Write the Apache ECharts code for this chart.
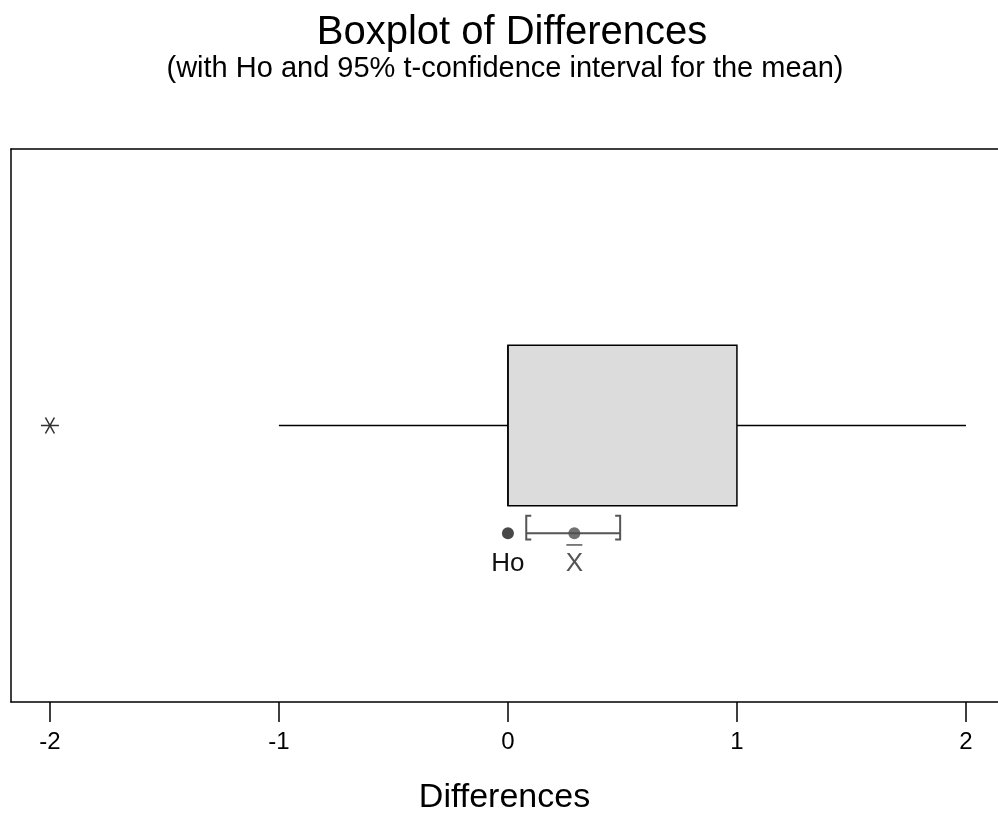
<!doctype html>
<html>
<head>
    <meta charset="UTF-8">
    <title>Boxplot of Differences</title>
    <script src="https://cdn.jsdelivr.net/npm/echarts/dist/echarts.min.js"></script>
    <style>
        html, body { margin: 0; padding: 0; background: #fff; }
    </style>
</head>
<body>
<div id="main" style="width: 998px;height:820px;"></div>
<script>
    // data
    var tickValues = [-2, -1, 0, 1, 2];
    var boxStats = [-1, 0, 0, 1, 2];   // whisker low, Q1, median, Q3, whisker high
    var outliers = [-2];
    var hoValue = 0;
    var meanValue = 0.29;
    var ciBounds = [0.08, 0.49];

    // vertical layout on a hidden 0..1 axis
    var MID = 0.5, BOX_TOP = 0.645, BOX_BOTTOM = 0.355;
    var CI_Y = 0.305, BR_TOP = 0.337, BR_BOTTOM = 0.294;
    var LABEL_Y = 0.249, BAR_Y = 0.284;
    var FONT = 'Liberation Sans, Arial, sans-serif';

    function renderBox(params, api) {
        var lo = api.value(0), q1 = api.value(1), med = api.value(2), q3 = api.value(3), hi = api.value(4);
        var tl = api.coord([q1, BOX_TOP]);
        var br = api.coord([q3, BOX_BOTTOM]);
        var a = api.coord([lo, MID]), b = api.coord([q1, MID]);
        var c = api.coord([q3, MID]), d = api.coord([hi, MID]);
        var mTop = api.coord([med, BOX_TOP]), mBot = api.coord([med, BOX_BOTTOM]);
        var line = {stroke: '#000', lineWidth: 1.4};
        return {
            type: 'group',
            children: [
                {type: 'line', shape: {x1: a[0], y1: a[1], x2: b[0], y2: b[1]}, style: line},
                {type: 'line', shape: {x1: c[0], y1: c[1], x2: d[0], y2: d[1]}, style: line},
                {type: 'rect', shape: {x: tl[0], y: tl[1], width: br[0] - tl[0], height: br[1] - tl[1]},
                    style: {fill: '#dcdcdc', stroke: '#000', lineWidth: 1.5}},
                {type: 'line', shape: {x1: mTop[0], y1: mTop[1], x2: mBot[0], y2: mBot[1]}, style: line}
            ]
        };
    }

    function renderCI(params, api) {
        var lo = api.value(0), mean = api.value(1), hi = api.value(2), ho = api.value(3);
        var p1 = api.coord([lo, CI_Y]), p2 = api.coord([hi, CI_Y]);
        var lt = api.coord([lo, BR_TOP]), lb = api.coord([lo, BR_BOTTOM]);
        var rt = api.coord([hi, BR_TOP]), rb = api.coord([hi, BR_BOTTOM]);
        var hoLab = api.coord([ho, LABEL_Y]), mLab = api.coord([mean, LABEL_Y]);
        var bar = api.coord([mean, BAR_Y]);
        var gray = {stroke: '#555', lineWidth: 2};
        var serif = 5;
        return {
            type: 'group',
            children: [
                {type: 'line', shape: {x1: p1[0], y1: p1[1], x2: p2[0], y2: p2[1]}, style: gray},
                {type: 'polyline', shape: {points: [[lt[0] + serif, lt[1]], lt, lb, [lb[0] + serif, lb[1]]]},
                    style: {stroke: '#555', lineWidth: 2, fill: null}},
                {type: 'polyline', shape: {points: [[rt[0] - serif, rt[1]], rt, rb, [rb[0] - serif, rb[1]]]},
                    style: {stroke: '#555', lineWidth: 2, fill: null}},
                {type: 'text', x: hoLab[0], y: hoLab[1],
                    style: {text: 'Ho', fill: '#111', font: '26px ' + FONT, align: 'center', verticalAlign: 'middle'}},
                {type: 'text', x: mLab[0], y: mLab[1],
                    style: {text: 'X', fill: '#555', font: '26px ' + FONT, align: 'center', verticalAlign: 'middle'}},
                {type: 'line', shape: {x1: bar[0] - 8, y1: bar[1], x2: bar[0] + 8, y2: bar[1]},
                    style: {stroke: '#555', lineWidth: 1.5}}
            ]
        };
    }

    var frameLine = {show: true, onZero: false, lineStyle: {color: '#000', width: 1.5}};

    var myChart = echarts.init(document.getElementById('main'));
    var option = {
        animation: false,
        backgroundColor: '#fff',
        title: [
            {text: 'Boxplot of Differences', left: 507, top: 8, textAlign: 'center',
                textStyle: {fontFamily: FONT, fontSize: 40, fontWeight: 'normal', color: '#000'}},
            {text: '(with Ho and 95% t-confidence interval for the mean)', left: 500, top: 49, textAlign: 'center',
                textStyle: {fontFamily: FONT, fontSize: 29, fontWeight: 'normal', color: '#000'}}
        ],
        grid: {left: 11, top: 149, right: 0, bottom: 113, show: false},
        xAxis: [
            {
                type: 'value', min: -2.17, max: 2.14, position: 'bottom',
                name: 'Differences', nameLocation: 'middle', nameGap: 79,
                nameTextStyle: {fontFamily: FONT, fontSize: 34, color: '#000'},
                axisLine: frameLine,
                axisTick: {show: true, customValues: tickValues, length: 20, lineStyle: {color: '#000', width: 1.5}},
                axisLabel: {customValues: tickValues, margin: 28, fontFamily: FONT, fontSize: 24, color: '#000'},
                splitLine: {show: false}
            },
            {
                type: 'value', min: -2.17, max: 2.14, position: 'top',
                axisLine: frameLine, axisTick: {show: false}, axisLabel: {show: false}, splitLine: {show: false}
            }
        ],
        yAxis: {
            type: 'value', min: 0, max: 1, position: 'left',
            axisLine: frameLine, axisTick: {show: false}, axisLabel: {show: false}, splitLine: {show: false}
        },
        series: [
            {
                type: 'custom', renderItem: renderBox,
                data: [boxStats], encode: {x: [0, 1, 2, 3, 4]}, silent: true, z: 2
            },
            {
                type: 'scatter',
                data: outliers.map(function (v) { return [v, MID]; }),
                symbol: 'path://M0,8L18,8M4.5,0L13.5,16M13.5,0L4.5,16',
                symbolSize: [18, 16],
                itemStyle: {color: 'transparent', borderColor: '#000', borderWidth: 1.5},
                z: 3
            },
            {
                type: 'custom', renderItem: renderCI,
                data: [[ciBounds[0], meanValue, ciBounds[1], hoValue]], encode: {x: [0, 1, 2, 3]}, silent: true, z: 3
            },
            {
                type: 'scatter', data: [[hoValue, CI_Y]], symbol: 'circle', symbolSize: 12,
                itemStyle: {color: '#1a1a1a'}, z: 4
            },
            {
                type: 'scatter', data: [[meanValue, CI_Y]], symbol: 'circle', symbolSize: 12,
                itemStyle: {color: '#4d4d4d'}, z: 4
            }
        ]
    };
    myChart.setOption(option);
</script>
</body>
</html>
